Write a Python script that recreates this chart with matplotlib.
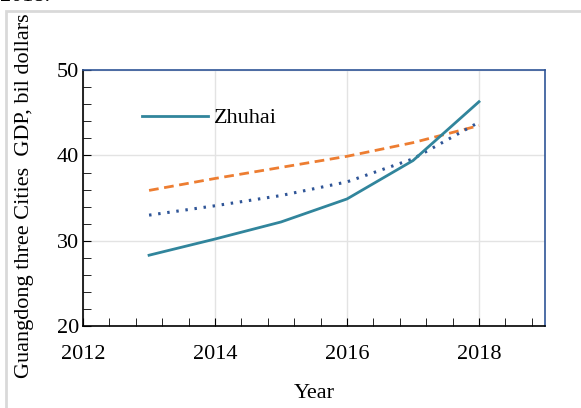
import matplotlib.pyplot as plt
from matplotlib.ticker import MultipleLocator
from matplotlib.patches import Rectangle

plt.rcParams['font.family'] = ['Liberation Serif', 'DejaVu Serif']

years = [2013, 2014, 2015, 2016, 2017, 2018]
zhuhai = [28.3, 30.2, 32.2, 34.9, 39.4, 46.3]
trend_dashed = [35.9, 37.3, 38.6, 39.9, 41.5, 43.5]
trend_dotted = [33.0, 34.1, 35.3, 36.9, 39.6, 43.9]

fig = plt.figure(figsize=(5.81, 4.08), dpi=100)
ax = fig.add_axes([0.143, 0.201, 0.795, 0.627])

ax.plot(years, trend_dashed, color='#ED7D31', lw=2, ls=(0, (3.5, 2)))
ax.plot(years, trend_dotted, color='#2F5597', lw=2.2, ls=(0, (0.8, 2.2)))
ax.plot(years, zhuhai, color='#31859C', lw=2, label='Zhuhai')

ax.set_xlim(2012, 2019)
ax.set_ylim(20, 50)
ax.set_xticks([2012, 2014, 2016, 2018])
ax.set_yticks([20, 30, 40, 50])
ax.xaxis.set_minor_locator(MultipleLocator(0.4))
ax.yaxis.set_minor_locator(MultipleLocator(2))
ax.tick_params(which='both', direction='in', labelsize=16, color='black')
ax.tick_params(which='major', length=6)
ax.tick_params(which='minor', length=6)
ax.tick_params(axis='x', which='major', pad=14)
ax.tick_params(axis='y', which='major', pad=3)
ax.grid(True, which='major', color='#e3e3e3', lw=1)
ax.set_axisbelow(True)

for side in ['left', 'bottom']:
    ax.spines[side].set_color('black')
    ax.spines[side].set_linewidth(1.2)
for side in ['right', 'top']:
    ax.spines[side].set_color('#2F5597')
    ax.spines[side].set_linewidth(1.2)

ax.legend(loc='center left', bbox_to_anchor=(0.128, 0.8125), frameon=False,
          fontsize=16, handlelength=2.95, handletextpad=0.27,
          borderpad=0, borderaxespad=0)

ax.set_xlabel('Year', fontsize=16, labelpad=14)
fig.text(0.043, 0.52, 'Guangdong three Cities  GDP, bil dollars', rotation=90,
         fontsize=16, ha='center', va='center')

fig.text(0.0, 0.997, '2018.', fontsize=16, ha='left', va='baseline')
fig.patches.append(Rectangle((0.011, -0.1), 1.1, 1.072, transform=fig.transFigure,
                             fill=False, edgecolor='#d9d9d9', lw=2))

fig.savefig('out.png', dpi=100)
